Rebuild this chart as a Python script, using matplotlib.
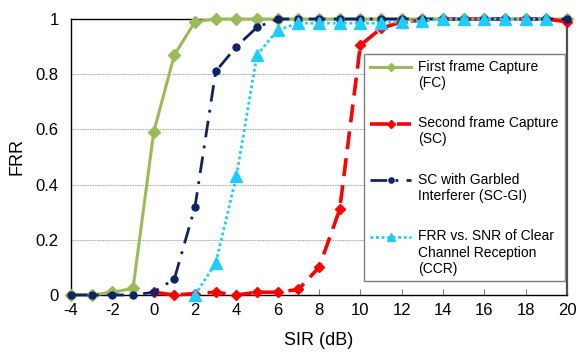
import numpy as np
import matplotlib
matplotlib.use('Agg')
import matplotlib.pyplot as plt

plt.rcParams['font.family'] = ['Liberation Sans', 'DejaVu Sans']
plt.rcParams['axes.unicode_minus'] = False

#################################
# Data
sir = [-4, -3, -2, -1, 0, 1, 2, 3, 4, 5, 6, 7, 8, 9, 10, 11, 12, 13, 14, 15, 16, 17, 18, 19, 20]

frr_fc = [0, 0, 0.01, 0.024, 0.59, 0.87, 0.99, 1, 1, 1, 1, 1, 1,
          1, 1, 1, 1, 1, 1, 1, 1, 1, 1, 1, 1]

sir_sc = [0, 1, 2, 3, 4, 5, 6, 7, 8, 9, 10, 11, 12, 13, 14, 15, 16, 17, 18, 19, 20]
frr_sc = [0.01, 0, 0.005, 0.01, 0, 0.01, 0.01, 0.02, 0.10, 0.31, 0.905, 0.966,
          0.99, 0.995, 1, 1, 1, 1, 1, 1, 0.99]

frr_scgi = [0, 0, 0, 0, 0.01, 0.058, 0.32, 0.81, 0.90, 0.97, 1, 1, 1,
            1, 1, 1, 1, 1, 1, 1, 1, 1, 1, 1, 1]

sir_ccr = [2, 3, 4, 5, 6, 7, 8, 9, 10, 11, 12, 13, 14, 15, 16, 17, 18, 19]
frr_ccr = [0, 0.115, 0.43, 0.87, 0.96, 0.985, 0.985, 0.985, 0.985, 0.985,
           0.99, 0.994, 1, 1, 1, 1, 1, 1]

labels = ['First frame Capture\n(FC)',
          'Second frame Capture\n(SC)',
          'SC with Garbled\nInterferer (SC-GI)',
          'FRR vs. SNR of Clear\nChannel Reception\n(CCR)']
#################################

# font sizes
tk_fs = 12
lb_fs = 13
lg_fs = 10

fig = plt.figure(figsize=[5.87, 3.52], dpi=100)
ax = fig.add_axes([0.121, 0.162, 0.845, 0.784])

ax.plot(sir, frr_fc, color='#9BBB59', lw=2.2, marker='D', ms=6,
        label=labels[0], clip_on=False, zorder=3)
ax.plot(sir_sc, frr_sc, color='#FF0000', lw=2.6, ls=(0, (5, 2.5)), marker='D', ms=5.5,
        label=labels[1], clip_on=False, zorder=4)
ax.plot(sir, frr_scgi, color='#0E2465', lw=2.0, ls=(0, (6, 3, 1, 3)), marker='o', ms=5,
        label=labels[2], clip_on=False, zorder=5)
ax.plot(sir_ccr, frr_ccr, color='#1FCCFF', lw=2.0, ls=(0, (1, 1)), marker='^', ms=8,
        label=labels[3], clip_on=False, zorder=6)

ax.set_xlim(-4, 20)
ax.set_ylim(0, 1)
ax.set_xticks(np.arange(-4, 21, 2))
ax.set_yticks([0, 0.2, 0.4, 0.6, 0.8, 1])
ax.set_yticklabels(['0', '0.2', '0.4', '0.6', '0.8', '1'])
ax.tick_params(axis='x', direction='in', length=4, width=0.8, color='#808080',
               labelsize=tk_fs, pad=6)
ax.tick_params(axis='y', length=0, labelsize=tk_fs, pad=9)
ax.yaxis.grid(True, color='#808080', lw=0.6, ls=(0, (1, 1)))
ax.set_axisbelow(True)

for s in ['left', 'bottom', 'top']:
    ax.spines[s].set_color('k')
    ax.spines[s].set_linewidth(1.0)
ax.spines['right'].set_color('#505050')
ax.spines['right'].set_linewidth(1.6)

ax.set_xlabel('SIR (dB)', fontsize=lb_fs, labelpad=10)
ax.set_ylabel('FRR', fontsize=lb_fs, labelpad=7)

leg = ax.legend(loc='upper left', bbox_to_anchor=(0.591, 0.062, 0.405, 0.811),
                mode='expand', borderaxespad=0, fontsize=lg_fs, handlelength=3,
                handletextpad=0.5, labelspacing=1.9, fancybox=False,
                edgecolor='#808080', framealpha=1, markerscale=0.75)
leg.get_frame().set_linewidth(1.0)

# move the legend handles up to the first line of each label
for h, lab in zip(leg.legend_handles, labels):
    n = lab.count('\n')
    h.set_ydata(np.asarray(h.get_ydata()) + 0.5 * n * 1.2 * lg_fs)

fig.savefig('out.png', dpi=100)
